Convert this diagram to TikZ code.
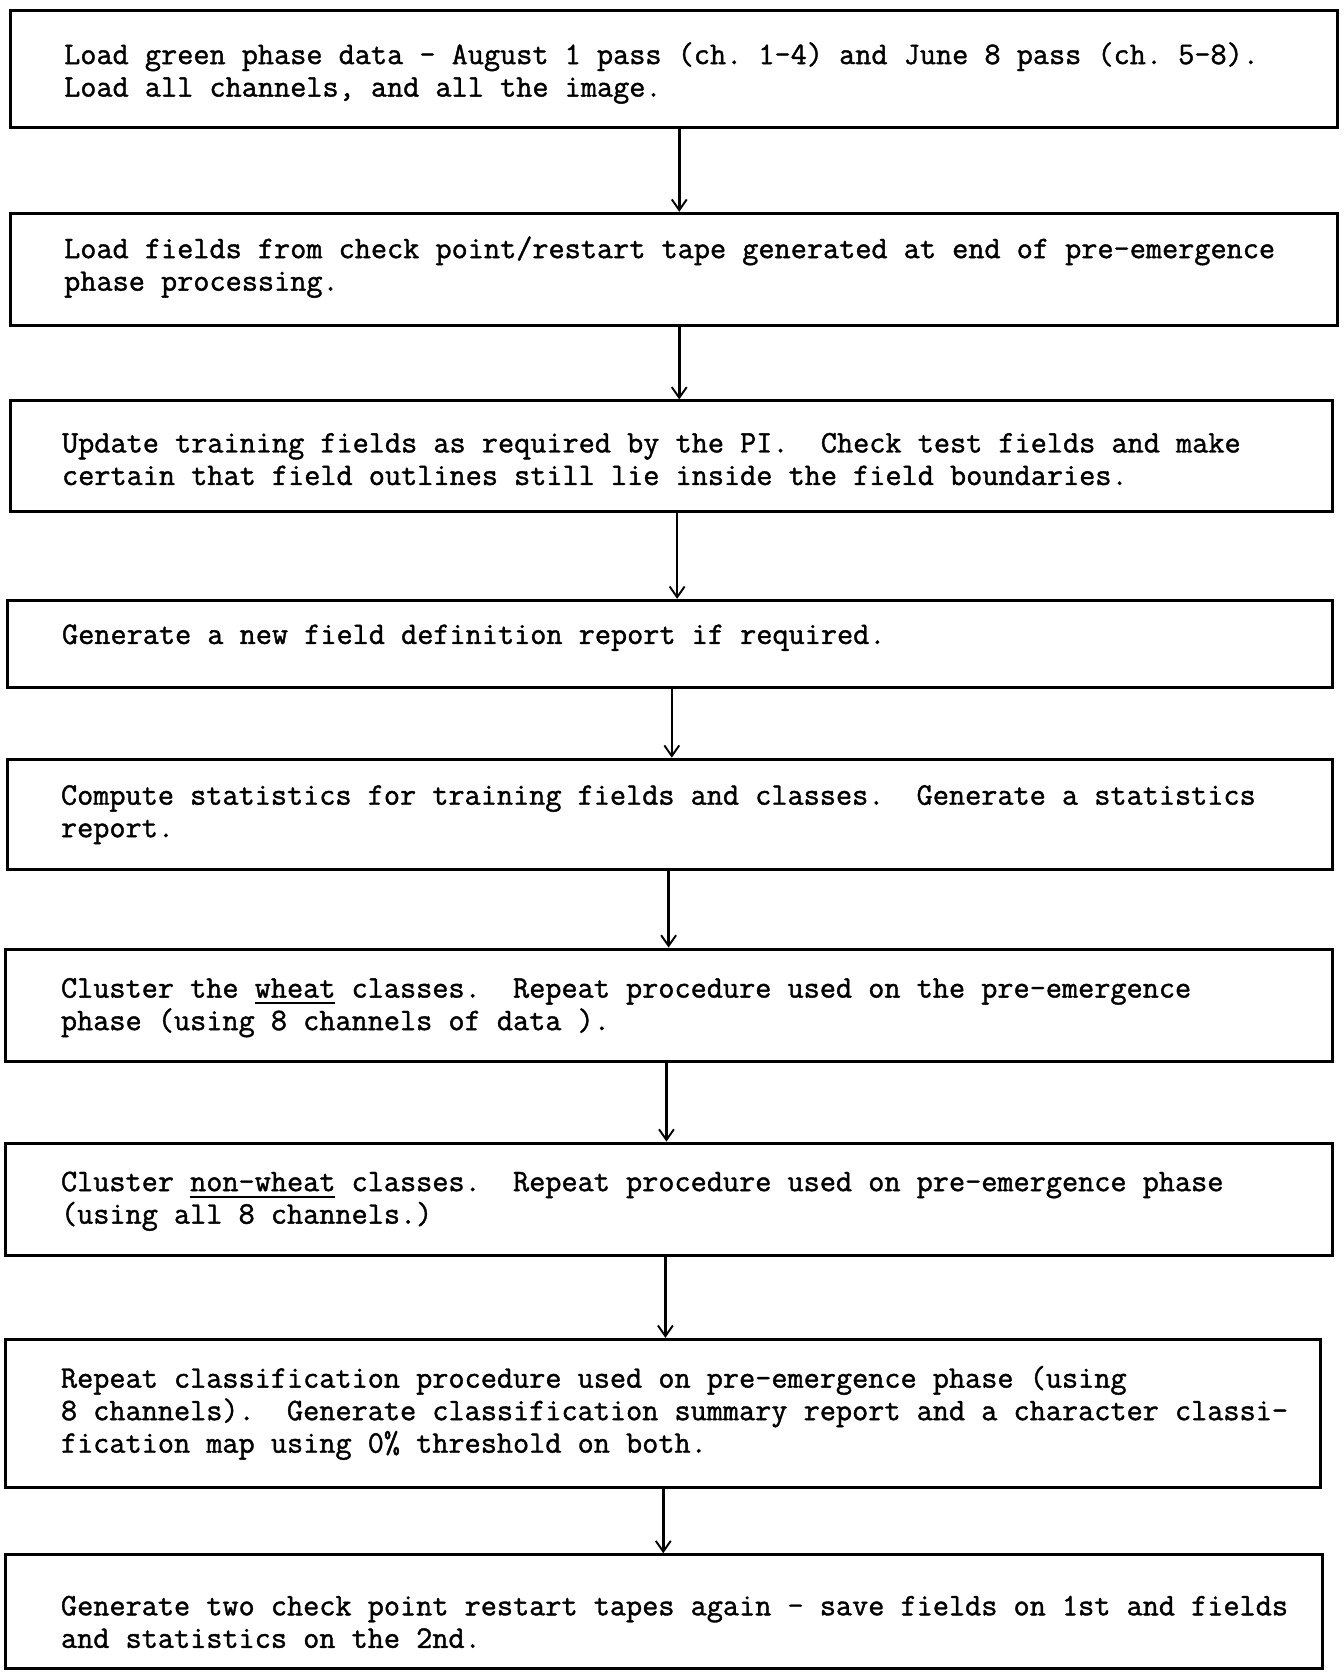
\documentclass[tikz,border=0pt]{standalone}
\usepackage{fontspec}
\newfontfamily\tw{Latin Modern Mono}[FakeBold=1.3]
\usetikzlibrary{arrows.meta,fit}
\newcommand\myul[1]{\setbox0\hbox{#1}\rlap{\rule[-6pt]{\wd0}{1.6pt}}#1}
\frenchspacing
\begin{document}
\begin{tikzpicture}[x=1pt,y=-1pt,
  box/.style={draw, line width=2.8pt, inner sep=0pt},
  txt/.style={font=\tw\fontsize{29.4}{30.5}\selectfont, align=left, inner sep=0pt, anchor=west},
  arr/.style={line width=2.4pt, -{Straight Barb[length=10pt,width=14pt,line width=1.8pt]}}]
\useasboundingbox (0,0) rectangle (1260,1568);

\node[box, fit={(10,10)(1254,120)}] (b1) {};
\node[box, fit={(10,200)(1254,305)}] (b2) {};
\node[box, fit={(10,376)(1250,480)}] (b3) {};
\node[box, fit={(7,563)(1250,645)}] (b4) {};
\node[box, fit={(7,712)(1250,815)}] (b5) {};
\node[box, fit={(5,890)(1250,995)}] (b6) {};
\node[box, fit={(5,1072)(1250,1177)}] (b7) {};
\node[box, fit={(5,1256)(1238,1395)}] (b8) {};
\node[box, fit={(5,1458)(1240,1565)}] (b9) {};

\node[txt] (t1) at (60,68.5) {Load green phase data - August 1 pass (ch. 1-4) and June 8 pass (ch. 5-8).\\Load all channels, and all the image.};
\node[txt] (t2) at (60,250.5) {Load fields from check point/restart tape generated at end of pre-emergence\\phase processing.};
\node[txt] (t3) at (58,430.5) {Update training fields as required by the PI.\ \ Check test fields and make\\certain that field outlines still lie inside the field boundaries.};
\node[txt] (t4) at (58,598) {Generate a new field definition report if required.};
\node[txt] (t5) at (57,764) {Compute statistics for training fields and classes.\ \ Generate a statistics\\report.};
\node[txt] (t6) at (57,945) {Cluster the \myul{wheat} classes.\ \ Repeat procedure used on the pre-emergence\\phase (using 8 channels of data ).};
\node[txt] (t7) at (57,1126.5) {Cluster \myul{non-wheat} classes.\ \ Repeat procedure used on pre-emergence phase\\(using all 8 channels.)};
\node[txt] (t8) at (57,1325) {Repeat classification procedure used on pre-emergence phase (using\\8 channels).\ \ Generate classification summary report and a character classi-\\fication map using 0\% threshold on both.};
\node[txt] (t9) at (57,1521) {Generate two check point restart tapes again - save fields on 1st and fields\\and statistics on the 2nd.};

\coordinate (c1) at (637,0);
\coordinate (c2) at (637,0);
\coordinate (c3) at (635,0);
\coordinate (c4) at (630,0);
\coordinate (c5) at (627,0);
\coordinate (c6) at (625,0);
\coordinate (c7) at (624,0);
\coordinate (c8) at (622,0);

\draw[arr] (b1.south -| c1) -- (b2.north -| c1);
\draw[arr] (b2.south -| c2) -- (b3.north -| c2);
\draw[arr] (b3.south -| c3) -- (b4.north -| c3);
\draw[arr] (b4.south -| c4) -- (b5.north -| c4);
\draw[arr] (b5.south -| c5) -- (b6.north -| c5);
\draw[arr] (b6.south -| c6) -- (b7.north -| c6);
\draw[arr] (b7.south -| c7) -- (b8.north -| c7);
\draw[arr] (b8.south -| c8) -- (b9.north -| c8);
\end{tikzpicture}
\end{document}
